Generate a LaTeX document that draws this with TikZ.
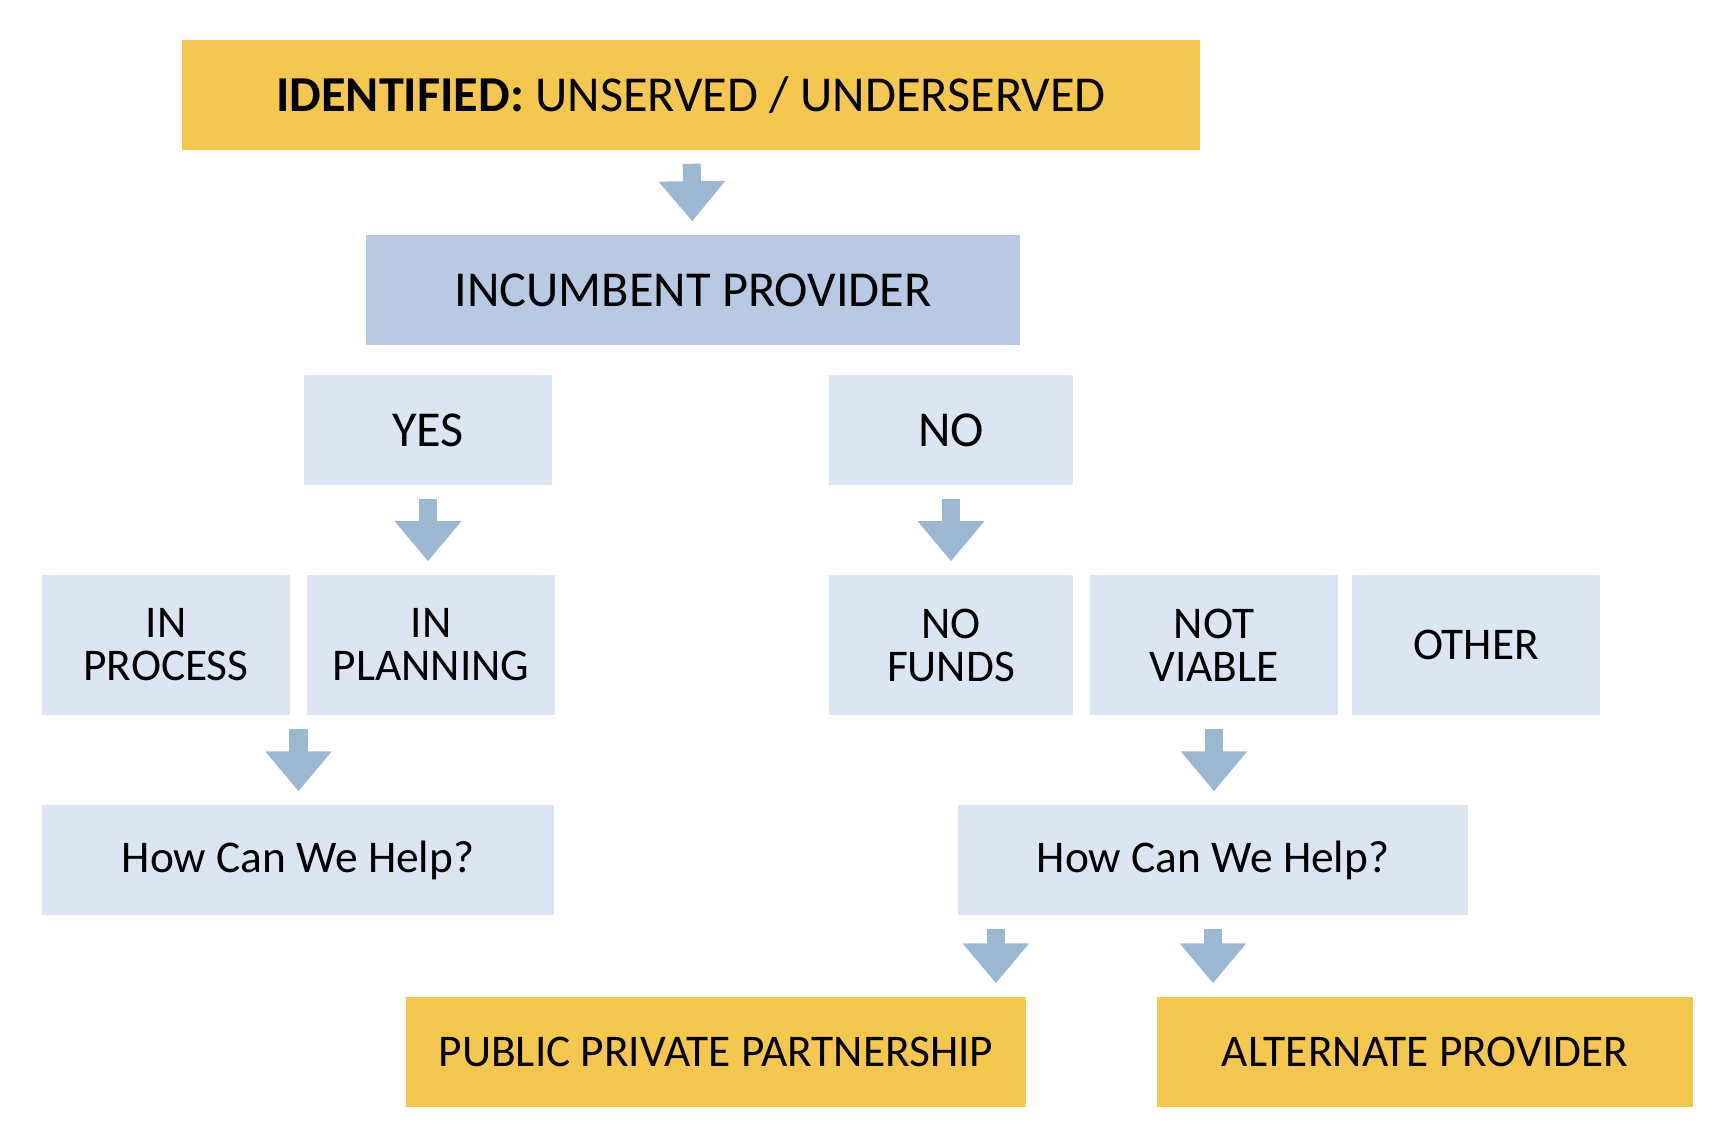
\documentclass[tikz,border=0pt]{standalone}
\usepackage{fontspec}
\setmainfont{Carlito}
\usepackage{xcolor}
\usepackage{tikz}
\usetikzlibrary{calc,arrows.meta}
\definecolor{gold}{HTML}{F4C74F}
\definecolor{midblue}{HTML}{B9C8E3}
\definecolor{paleblue}{HTML}{DCE6F2}
\definecolor{arrowblue}{HTML}{9CB7D1}
\tikzset{
  box/.style={inner sep=0pt, align=center, text=black, font=\fontsize{14.3}{13}\selectfont},
  small/.style={font=\fontsize{12.9}{12.2}\selectfont},
  goldbox/.style={box, fill=gold, minimum height=1.1cm},
  incbox/.style={box, fill=midblue, minimum height=1.1cm},
  palebox/.style={box, fill=paleblue, minimum height=1.1cm},
  tallbox/.style={box, small, fill=paleblue, minimum height=1.4cm, minimum width=2.47cm},
  flow/.style={draw=arrowblue, line width=0.18cm, shorten <=0.13cm, shorten >=0.13cm,
    -{Triangle[width=0.64cm, length=0.4cm]}},
}

\begin{document}
\begin{tikzpicture}[x=0.01cm, y=-0.01cm]
  \useasboundingbox[fill=white] (0,0) rectangle (1717,1138);

  % top of the chart
  \node[goldbox, minimum width=10.18cm] (ident) at (691,95)
    {\textbf{IDENTIFIED:} UNSERVED / UNDERSERVED};
  \node[incbox, minimum width=6.53cm] (incumb) at (693,290) {INCUMBENT PROVIDER};

  \node[palebox, minimum width=2.47cm] (yes) at (428,430) {YES};
  \node[palebox, minimum width=2.44cm] (no)  at (951,430) {NO};

  % second row
  \node[tallbox] (inproc)  at (166,645)  {IN\\PROCESS};
  \node[tallbox] (inplan)  at (431,645)  {IN\\PLANNING};
  \node[tallbox, minimum width=2.44cm] (nofunds) at (951,645) {NO\\FUNDS};
  \node[tallbox] (notviab) at (1214,645) {NOT\\VIABLE};
  \node[tallbox] (other)   at (1476,645) {OTHER};

  \node[palebox, small, minimum width=5.11cm] (helpL) at (298,860)  {How Can We Help?};
  \node[palebox, small, minimum width=5.10cm] (helpR) at (1213,860) {How Can We Help?};

  % outcomes
  \node[goldbox, small, minimum width=6.2cm]  (ppp) at (716,1052)  {PUBLIC PRIVATE PARTNERSHIP};
  \node[goldbox, small, minimum width=5.36cm] (alt) at (1425,1052) {ALTERNATE PROVIDER};

  \coordinate (pair) at ($(inproc.south east)!0.5!(inplan.south west)$);
  \coordinate (pppin) at ($(ppp.north east)+(-31,0)$);

  \draw[flow] (ident) -- (incumb);
  \draw[flow] (yes) -- (yes |- inplan.north);
  \draw[flow] (no) -- (nofunds);
  \draw[flow] (pair) -- (pair |- helpL.north);
  \draw[flow] (notviab) -- (notviab |- helpR.north);
  \draw[flow] (pppin |- helpR.south) -- (pppin);
  \draw[flow] (helpR.south) -- (helpR.south |- alt.north);
\end{tikzpicture}
\end{document}
